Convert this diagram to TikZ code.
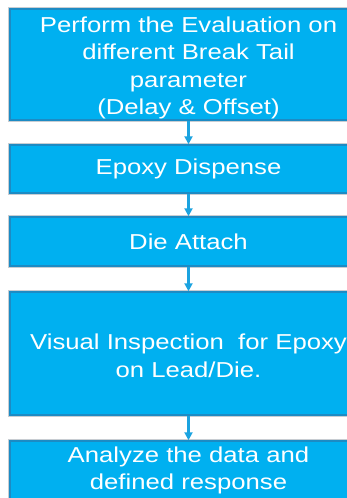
\documentclass[tikz,border=0pt]{standalone}
\usepackage{fontspec}
\setmainfont{Liberation Sans}[FakeStretch=1.19]
\usetikzlibrary{arrows.meta}
\definecolor{boxfill}{HTML}{00B0F0}
\definecolor{boxedge}{HTML}{1C8BC4}
\definecolor{arrowcol}{HTML}{1BA3E0}
\definecolor{shadowgray}{HTML}{C8CDD2}
\tikzset{
  stepbox/.style={rectangle, fill=boxfill, draw=boxedge, line width=1.5pt,
    preaction={draw=shadowgray, line width=3.5pt},
    minimum width=357pt, inner sep=0pt, align=center, text=white,
    font=\fontsize{21.6}{27.2}\selectfont},
  flowarrow/.style={draw=arrowcol, line width=2.2pt,
    -{Triangle[length=8pt,width=8pt]}}
}
\begin{document}
\begin{tikzpicture}[x=1pt,y=-1pt]
\useasboundingbox (0,0) rectangle (347,498);
\clip (0,0) rectangle (347,498);
\fill[white] (0,0) rectangle (347,498);
\node[stepbox, minimum height=111pt] (b1) at (188.5,64.5)
  {\rule{0pt}{22.5pt}Perform the Evaluation on\\different Break Tail\\parameter\\(Delay \& Offset)};
\node[stepbox, minimum height=48pt] (b2) at (188.5,169) {Epoxy Dispense};
\node[stepbox, minimum height=49pt] (b3) at (188.5,241.5) {Die Attach};
\node[stepbox, minimum height=123pt] (b4) at (188.5,353.5)
  {\rule{0pt}{20pt}Visual Inspection\ \ for Epoxy\\on Lead/Die.};
\node[stepbox, minimum height=59pt] (b5) at (188.5,470.5)
  {Analyze the data and\\defined response};
\draw[flowarrow] (b1.south) -- (b2.north);
\draw[flowarrow] (b2.south) -- (b3.north);
\draw[flowarrow] (b3.south) -- (b4.north);
\draw[flowarrow] (b4.south) -- (b5.north);
\end{tikzpicture}
\end{document}
